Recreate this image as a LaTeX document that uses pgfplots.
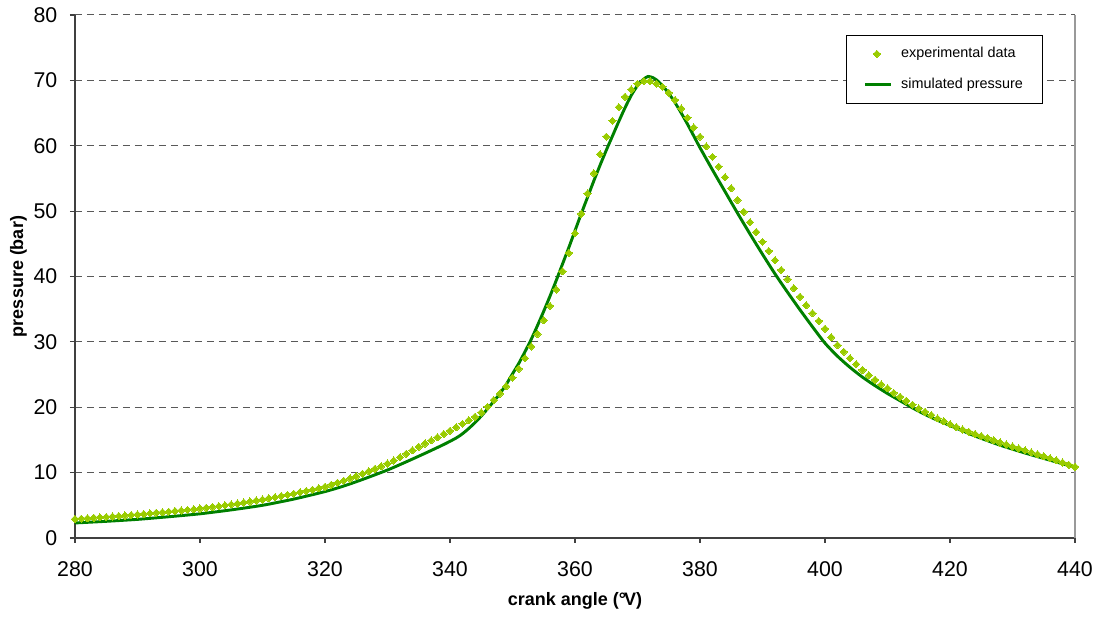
\documentclass[border=0pt]{standalone}
\usepackage{fontspec}
\setmainfont{Liberation Sans}
\usepackage{pgfplots}
\pgfplotsset{compat=1.18}
\definecolor{expgreen}{HTML}{99CC00}
\definecolor{simgreen}{HTML}{008000}

% measured cylinder pressure, one sample per degree
\pgfplotstableread{
deg p
280 2.90
281 2.96
282 3.02
283 3.09
284 3.16
285 3.23
286 3.30
287 3.37
288 3.44
289 3.52
290 3.60
291 3.68
292 3.76
293 3.85
294 3.94
295 4.03
296 4.12
297 4.21
298 4.30
299 4.40
300 4.50
301 4.62
302 4.74
303 4.87
304 5.00
305 5.14
306 5.28
307 5.43
308 5.58
309 5.74
310 5.90
311 6.07
312 6.24
313 6.42
314 6.60
315 6.79
316 6.99
317 7.19
318 7.40
319 7.62
320 7.85
321 8.15
322 8.46
323 8.78
324 9.11
325 9.45
326 9.85
327 10.20
328 10.58
329 10.98
330 11.40
331 11.85
332 12.35
333 12.88
334 13.42
335 13.95
336 14.45
337 14.93
338 15.42
339 15.90
340 16.40
341 16.95
342 17.45
343 18.00
344 18.55
345 19.20
346 20.05
347 21.10
348 22.10
349 23.20
350 24.50
351 25.90
352 27.50
353 29.30
354 31.20
355 33.30
356 35.50
357 38.00
358 40.80
359 43.60
360 46.60
361 49.60
362 52.70
363 55.80
364 58.70
365 61.40
366 63.80
367 65.90
368 67.50
369 68.60
370 69.50
371 69.90
372 69.90
373 69.50
374 69.00
375 68.10
376 67.00
377 65.70
378 64.30
379 62.80
380 61.40
381 59.90
382 58.30
383 56.80
384 55.20
385 53.50
386 51.70
387 49.90
388 48.30
389 46.80
390 45.30
391 43.90
392 42.50
393 41.00
394 39.60
395 38.20
396 36.90
397 35.60
398 34.40
399 33.20
400 32.00
401 30.70
402 29.50
403 28.50
404 27.50
405 26.60
406 25.70
407 24.90
408 24.20
409 23.50
410 22.90
411 22.20
412 21.60
413 21.00
414 20.40
415 19.80
416 19.30
417 18.80
418 18.30
419 17.85
420 17.40
421 17.00
422 16.60
423 16.25
424 15.90
425 15.60
426 15.30
427 14.95
428 14.60
429 14.30
430 14.00
431 13.70
432 13.40
433 13.10
434 12.80
435 12.50
436 12.20
437 11.90
438 11.55
439 11.20
440 10.90
}\expdata

% model output
\pgfplotstableread{
deg p
280 2.30
285 2.55
290 2.85
295 3.25
300 3.70
305 4.30
310 5.00
315 5.95
320 7.10
323 7.95
326 8.95
330 10.40
333 11.65
336 12.95
339 14.30
341 15.30
342 15.95
343 16.75
344 17.65
345 18.65
346 19.75
347 20.90
348 22.10
349 23.50
350 25.10
351 26.70
352 28.50
353 30.40
354 32.50
355 34.70
356 37.00
357 39.40
358 41.90
359 44.40
360 47.00
361 49.60
362 52.10
363 54.60
364 57.00
365 59.30
366 61.50
367 63.70
368 65.80
369 67.70
370 69.20
371 70.20
371.7 70.60
372.5 70.40
373 70.10
374 69.20
375 68.00
376 66.60
377 65.00
378 63.30
379 61.50
380 59.70
382 56.30
384 53.00
386 49.70
388 46.50
390 43.40
392 40.40
394 37.60
396 34.90
398 32.30
400 29.80
402 27.80
404 26.10
406 24.60
408 23.30
410 22.10
412 21.00
414 19.90
416 18.90
418 18.00
420 17.20
424 15.60
428 14.20
432 13.00
436 11.90
440 10.80
}\simdata

\pgfplotsset{
  simline legend/.style={
    legend image code/.code={\draw[##1] (0pt,0pt) -- (19.2pt,0pt);}},
}

\begin{document}
\begin{tikzpicture}
\begin{axis}[
  scale only axis,
  width=750pt, height=392.25pt,
  xmin=280, xmax=440, ymin=0, ymax=80,
  xtick={280,300,...,440},
  ytick={0,10,...,80},
  axis x line*=bottom, axis y line*=left,
  axis line style={black!75, line width=0.9pt},
  tick align=outside,
  major tick length=3.75pt,
  tick style={black!75, line width=0.9pt},
  ymajorgrids,
  grid style={black!65, line width=0.75pt, dash pattern=on 5.25pt off 3.75pt},
  /pgf/number format/assume math mode=true,
  tick label style={font=\fontsize{16}{18}\selectfont},
  xticklabel style={yshift=-10.5pt},
  yticklabel style={xshift=-6pt},
  xlabel={crank angle (°\kern-0.12em V)},
  ylabel={pressure (bar)},
  every axis x label/.style={at={(rel axis cs:0.5,0)}, yshift=-47.5pt, anchor=center,
    font=\bfseries\fontsize{13.5}{16}\selectfont},
  every axis y label/.style={at={(rel axis cs:0,0.5)}, xshift=-42.4pt, rotate=90, anchor=center,
    font=\bfseries\fontsize{13.5}{16}\selectfont},
  clip=false,
  legend cell align=left,
  legend style={at={(rel axis cs:0.9677,0.9618)}, anchor=north east,
    draw=black, line width=0.75pt, fill=white,
    inner xsep=13.5pt, inner ysep=7.6pt, row sep=10.75pt,
    font=\fontsize{10.8}{12}\selectfont,
    nodes={inner sep=1pt, text height=8pt, text depth=2.5pt},
    /tikz/every odd column/.append style={column sep=5.5pt}},
]
\coordinate (sw) at (rel axis cs:0,0);
\coordinate (ne) at (rel axis cs:1,1);
\draw[black!40, line width=0.9pt] (rel axis cs:1,0) -- (rel axis cs:1,1);
\addplot[only marks, mark=square*, mark size=1.9pt,
  mark options={rotate=45, draw=expgreen, fill=expgreen, line width=0pt}]
  table[x=deg, y=p] {\expdata};
\addlegendentry{experimental data}
\addplot[simgreen, line width=2.2pt, smooth, tension=0.4, simline legend]
  table[x=deg, y=p] {\simdata};
\addlegendentry{simulated pressure}
\end{axis}
\pgfresetboundingbox
\path ([shift={(-56.25pt,-60.75pt)}]sw) rectangle ([shift={(16.5pt,11.25pt)}]ne);
\end{tikzpicture}
\end{document}
